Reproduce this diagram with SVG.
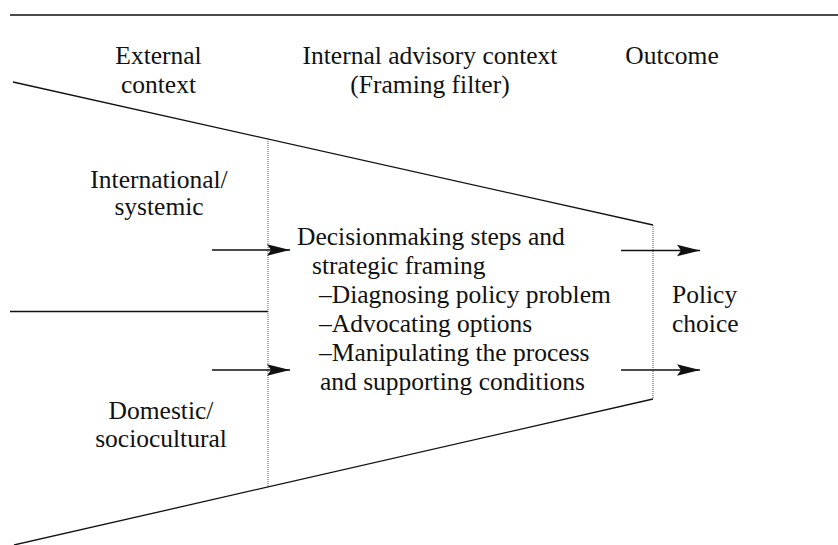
<svg xmlns="http://www.w3.org/2000/svg" width="838" height="545" viewBox="0 0 838 545">
  <style>
    text { font-family: 'Liberation Serif', 'Tinos', 'DejaVu Serif', serif; font-size: 25.5px; fill: #111; }
    .c { text-anchor: middle; }
    .ln { stroke: #111; stroke-width: 1.3; fill: none; }
    .dot { stroke: #555; stroke-width: 1; stroke-dasharray: 1 1; fill: none; }
    .arr { stroke: #111; stroke-width: 1.3; fill: none; marker-end: url(#head); }
  </style>
  <defs>
    <marker id="head" markerUnits="userSpaceOnUse" markerWidth="24" markerHeight="14" refX="23" refY="7" orient="auto">
      <path d="M23,7 L0,1.2 L4,7 L0,12.8 Z" fill="#111"/>
    </marker>
  </defs>
  <rect width="838" height="545" fill="#fff"/>

  <!-- top rule -->
  <line class="ln" x1="10" y1="15" x2="838" y2="15"/>

  <g font-family="Liberation Serif, Tinos, DejaVu Serif, serif">
  <!-- column headings -->
  <g id="head-external">
    <text class="c" x="158.5" y="64">External</text>
    <text class="c" x="158.5" y="93">context</text>
  </g>
  <g id="head-internal">
    <text class="c" x="430" y="64">Internal advisory context</text>
    <text class="c" x="430" y="93">(Framing filter)</text>
  </g>
  <g id="head-outcome">
    <text class="c" x="672" y="64">Outcome</text>
  </g>

  <g id="international">
    <text class="c" x="159" y="188">International/</text>
    <text class="c" x="159" y="215">systemic</text>
  </g>
  <g id="domestic">
    <text class="c" x="161" y="419">Domestic/</text>
    <text class="c" x="161" y="447">sociocultural</text>
  </g>

  <g id="framing">
    <text x="297" y="245">Decisionmaking steps and</text>
    <text x="312" y="274">strategic framing</text>
    <text x="319" y="303">–Diagnosing policy problem</text>
    <text x="319" y="332">–Advocating options</text>
    <text x="319" y="361">–Manipulating the process</text>
    <text x="320" y="390">and supporting conditions</text>
  </g>

  <g id="policy-choice">
    <text x="672" y="303">Policy</text>
    <text x="672" y="332">choice</text>
  </g>
  </g>

  <!-- funnel outline -->
  <g id="funnel">
    <line class="ln" x1="13" y1="82" x2="653" y2="225"/>
    <line class="ln" x1="14" y1="545" x2="653" y2="399"/>
    <line class="ln" x1="10" y1="311.5" x2="268" y2="311.5"/>
    <line class="dot" x1="268" y1="139" x2="268" y2="487"/>
    <line class="dot" x1="653" y1="225" x2="653" y2="399"/>
  </g>

  <!-- connectors -->
  <g id="connectors">
    <line class="arr" x1="212" y1="250" x2="290" y2="250"/>
    <line class="arr" x1="212" y1="370" x2="290" y2="370"/>
    <line class="arr" x1="621" y1="250.5" x2="700" y2="250.5"/>
    <line class="arr" x1="621" y1="370" x2="700" y2="370"/>
  </g>
</svg>
